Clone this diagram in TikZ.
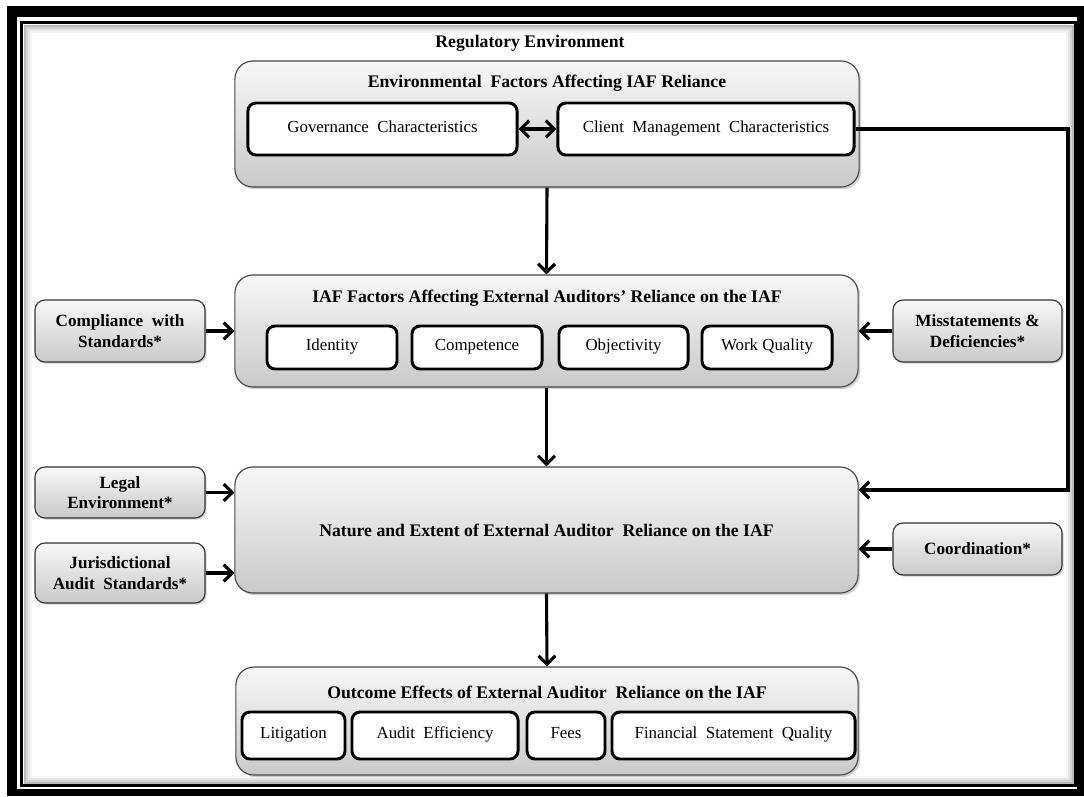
\documentclass[tikz,border=0pt]{standalone}
\usepackage{fontspec}
\setmainfont{Liberation Serif}
\usetikzlibrary{arrows.meta,shadows}

\tikzset{
  group/.style={draw=gray!55!black, line width=0.8pt, rounded corners=0.45cm,
    top color=gray!6, bottom color=gray!42,
    drop shadow={shadow xshift=1.5pt, shadow yshift=-1.5pt, opacity=0.35}},
  side/.style={draw=gray!40!black, line width=0.8pt, rounded corners=0.25cm,
    top color=gray!6, bottom color=gray!42, align=center,
    font=\fontsize{12.2}{14.5}\selectfont\bfseries,
    drop shadow={shadow xshift=1.2pt, shadow yshift=-1.2pt, opacity=0.35}},
  item/.style={draw, line width=2.1pt, rounded corners=0.2cm, fill=white,
    text height=1.5ex, text depth=0.45ex,
    font=\fontsize{12}{14}\selectfont},
  title/.style={font=\fontsize{12.6}{15}\selectfont\bfseries},
  link/.style={line width=2.2pt, -{Straight Barb[length=6pt,width=12pt]}},
}

\begin{document}
\begin{tikzpicture}[x=0.025cm, y=-0.025cm]
  \useasboundingbox (0,0) rectangle (1084,796);
  % Rahmen
  \fill[black] (7,6) rectangle (1084,796);
  \fill[white] (17,17) rectangle (1077,789);
  \draw[line width=2.2pt] (21.5,22.5) rectangle (1075.5,785.5);
  \foreach \i/\c in {1/55,2/35,3/20,4/8}
    \draw[gray!\c, line width=0.05cm] (21.5+2*\i+1,22.5+2*\i+1) rectangle (1075.5-2*\i-1,785.5-2*\i-1);
  \node[title] (reg) at (530,43) {Regulatory Environment};

  % Umfeld
  \node[group, minimum width=15.6cm, minimum height=3.15cm] (env) at (547,124) {};
  \node[title] (envt) at (547,83) {Environmental\ \ Factors Affecting IAF Reliance};
  \node[item, minimum width=6.725cm, minimum height=1.3cm] (gov) at (382.5,129) {Governance\ \ Characteristics};
  \node[item, minimum width=7.4cm, minimum height=1.3cm] (cli) at (706,129) {Client\ \ Management\ \ Characteristics};

  % IAF-Faktoren
  \node[group, minimum width=15.575cm, minimum height=2.8cm] (iaf) at (546.5,331) {};
  \node[title] (iaft) at (547,298) {IAF Factors Affecting External Auditors’ Reliance on the IAF};
  \node[item, minimum width=3.25cm, minimum height=1.075cm] (idn) at (332,347.5) {Identity};
  \node[item, minimum width=3.25cm, minimum height=1.075cm] (cmp) at (477,347.5) {Competence};
  \node[item, minimum width=3.225cm, minimum height=1.075cm] (obj) at (623.5,347.5) {Objectivity};
  \node[item, minimum width=3.25cm, minimum height=1.075cm] (wq) at (767,347.5) {Work Quality};

  % Seitenkaesten
  \node[side, minimum width=4.25cm, minimum height=1.55cm] (comp) at (120,331) {Compliance\ \ with\\Standards*};
  \node[side, minimum width=4.225cm, minimum height=1.55cm] (mis) at (977.5,331) {Misstatements \&\\Deficiencies*};
  \node[side, minimum width=4.25cm, minimum height=1.275cm] (legal) at (120,492.5) {Legal\\Environment*};
  \node[side, minimum width=4.25cm, minimum height=1.5cm] (juris) at (120,573) {Jurisdictional\\Audit\ \ Standards*};
  \node[side, minimum width=4.225cm, minimum height=1.3cm] (coord) at (977.5,549) {Coordination*};

  % Reliance
  \node[group, minimum width=15.575cm, minimum height=3.15cm, title] (nat) at (546.5,530)
    {Nature and Extent of External Auditor\ \ Reliance on the IAF};

  % Ergebnisse
  \node[group, minimum width=15.55cm, minimum height=2.7cm] (out) at (547,721) {};
  \node[title] (outt) at (547,692) {Outcome Effects of External Auditor\ \ Reliance on the IAF};
  \node[item, minimum width=2.575cm, minimum height=1.175cm] (lit) at (293.5,735.5) {Litigation};
  \node[item, minimum width=4.15cm, minimum height=1.175cm] (eff) at (435,735.5) {Audit\ \ Efficiency};
  \node[item, minimum width=1.95cm, minimum height=1.175cm] (fee) at (566,735.5) {Fees};
  \node[item, minimum width=6.075cm, minimum height=1.175cm] (fsq) at (733.5,735.5) {Financial\ \ Statement\ \ Quality};

  % Pfeile
  \draw[line width=2.2pt, {Straight Barb[length=6pt,width=12pt]}-{Straight Barb[length=6pt,width=12pt]}] (gov) -- (cli);
  \draw[link] (env.south) -- (iaf.north);
  \draw[link] (comp) -- (iaf);
  \draw[link] (mis) -- (iaf);
  \draw[link] (iaf.south) -- (nat.north);
  \draw[link] (legal.east) -- (legal.east -| nat.west);
  \draw[link] (juris.east) -- (juris.east -| nat.west);
  \draw[link] (coord.west) -- (coord.west -| nat.east);
  \coordinate (fb) at (1068,490);
  \draw[link] (cli.east) -| (fb) -- (fb -| nat.east);
  \draw[link] (nat.south) -- (out.north);
\end{tikzpicture}
\end{document}
